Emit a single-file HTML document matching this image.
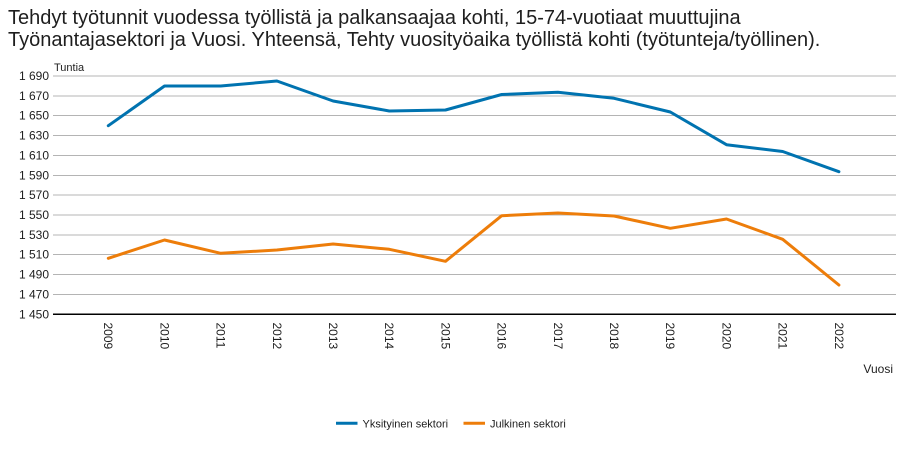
<!DOCTYPE html>
<html>
<head>
<meta charset="utf-8">
<style>
  html, body { margin: 0; padding: 0; background: #ffffff; }
  svg { display: block; }
  text { font-family: "Liberation Sans", Arial, sans-serif; fill: #1e1e1e; }
</style>
</head>
<body>
<svg width="913" height="472" viewBox="0 0 913 472" xmlns="http://www.w3.org/2000/svg">
  <rect x="0" y="0" width="913" height="472" fill="#ffffff"/>
  <!-- Title -->
  <text x="8" y="24" font-size="20">Tehdyt työtunnit vuodessa työllistä ja palkansaajaa kohti, 15-74-vuotiaat muuttujina</text>
  <text x="8" y="46" font-size="20">Työnantajasektori ja Vuosi. Yhteensä, Tehty vuosityöaika työllistä kohti (työtunteja/työllinen).</text>

  <!-- Axis title -->
  <text x="54" y="71" font-size="11">Tuntia</text>

  <!-- Gridlines -->
  <g stroke="#b4b4b4" stroke-width="1" shape-rendering="crispEdges">
    <line x1="53" x2="896" y1="76" y2="76"/>
    <line x1="53" x2="896" y1="95.9" y2="95.9"/>
    <line x1="53" x2="896" y1="115.7" y2="115.7"/>
    <line x1="53" x2="896" y1="135.6" y2="135.6"/>
    <line x1="53" x2="896" y1="155.4" y2="155.4"/>
    <line x1="53" x2="896" y1="175.3" y2="175.3"/>
    <line x1="53" x2="896" y1="195.2" y2="195.2"/>
    <line x1="53" x2="896" y1="215" y2="215"/>
    <line x1="53" x2="896" y1="234.9" y2="234.9"/>
    <line x1="53" x2="896" y1="254.7" y2="254.7"/>
    <line x1="53" x2="896" y1="274.6" y2="274.6"/>
    <line x1="53" x2="896" y1="294.5" y2="294.5"/>
  </g>
  <line x1="53" x2="896" y1="314.3" y2="314.3" stroke="#000" stroke-width="1.3" shape-rendering="crispEdges"/>

  <!-- Y labels -->
  <g font-size="12" text-anchor="end">
    <text x="49" y="80">1 690</text>
    <text x="49" y="99.9">1 670</text>
    <text x="49" y="119.7">1 650</text>
    <text x="49" y="139.6">1 630</text>
    <text x="49" y="159.4">1 610</text>
    <text x="49" y="179.3">1 590</text>
    <text x="49" y="199.2">1 570</text>
    <text x="49" y="219">1 550</text>
    <text x="49" y="238.9">1 530</text>
    <text x="49" y="258.7">1 510</text>
    <text x="49" y="278.6">1 490</text>
    <text x="49" y="298.5">1 470</text>
    <text x="49" y="318.3">1 450</text>
  </g>

  <!-- X labels (rotated) -->
  <g font-size="12">
    <text transform="translate(104.2,322.5) rotate(90)">2009</text>
    <text transform="translate(160.4,322.5) rotate(90)">2010</text>
    <text transform="translate(216.6,322.5) rotate(90)">2011</text>
    <text transform="translate(272.8,322.5) rotate(90)">2012</text>
    <text transform="translate(329,322.5) rotate(90)">2013</text>
    <text transform="translate(385.2,322.5) rotate(90)">2014</text>
    <text transform="translate(441.4,322.5) rotate(90)">2015</text>
    <text transform="translate(497.6,322.5) rotate(90)">2016</text>
    <text transform="translate(553.8,322.5) rotate(90)">2017</text>
    <text transform="translate(610,322.5) rotate(90)">2018</text>
    <text transform="translate(666.2,322.5) rotate(90)">2019</text>
    <text transform="translate(722.4,322.5) rotate(90)">2020</text>
    <text transform="translate(778.6,322.5) rotate(90)">2021</text>
    <text transform="translate(834.8,322.5) rotate(90)">2022</text>
  </g>

  <text x="893" y="373" font-size="12" text-anchor="end">Vuosi</text>

  <!-- Series -->
  <polyline fill="none" stroke="#0073b0" stroke-width="3" stroke-linejoin="round" stroke-linecap="round"
    points="108.3,125.7 164.5,86 220.7,86 276.9,81 333.1,101 389.3,111 445.5,110 501.7,94.5 557.9,92.3 614.1,98.3 670.3,112 726.5,144.7 782.7,151.5 838.9,171.7"/>
  <polyline fill="none" stroke="#ed7d0a" stroke-width="3" stroke-linejoin="round" stroke-linecap="round"
    points="108.3,258.3 164.5,240 220.7,253.3 276.9,250 333.1,244 389.3,249.3 445.5,261.3 501.7,215.7 557.9,213 614.1,216 670.3,228.3 726.5,219 782.7,239.3 838.9,285"/>

  <!-- Legend -->
  <line x1="336" x2="357.5" y1="423.3" y2="423.3" stroke="#0073b0" stroke-width="3"/>
  <text x="362.5" y="427.5" font-size="11">Yksityinen sektori</text>
  <line x1="463.5" x2="485" y1="423.3" y2="423.3" stroke="#ed7d0a" stroke-width="3"/>
  <text x="490" y="427.5" font-size="11">Julkinen sektori</text>
</svg>
</body>
</html>
